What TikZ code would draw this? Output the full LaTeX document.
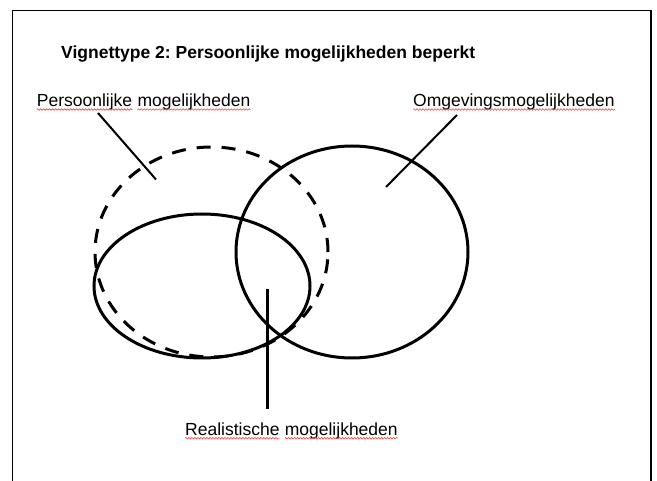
\documentclass[tikz,border=0pt]{standalone}
\usepackage{fontspec}
\setmainfont{Liberation Sans}
\usetikzlibrary{decorations.pathmorphing}
\frenchspacing

\begin{document}
\begin{tikzpicture}[x=1pt, y=-1pt,
  kader/.style={line width=1.5pt},
  set/.style={line width=3pt},
  setdash/.style={set, dash pattern=on 14pt off 11pt},
  wijs/.style={line width=2pt},
  squig/.style={red!75, line width=0.6pt, decorate,
    decoration={snake, amplitude=0.8pt, segment length=3pt}}]

\useasboundingbox (0,0) rectangle (657,481);
\draw[kader] (12.5,481) -- (12.5,10.5) -- (651,10.5) -- (651,481);

\begin{scope}[every node/.style={anchor=base west, inner sep=0pt,
    font=\fontsize{17.5}{21}\selectfont}]
    \path (61,59) node[font=\fontsize{17.5}{21}\selectfont\bfseries] (titel) {Vignettype 2: Persoonlijke mogelijkheden beperkt};
    \path (36.7,107) node (pers) {Persoonlijke};
    \path (pers.base east) +(4.9,0) node (persmog) {mogelijkheden};
    \path (413,107) node (omg) {Omgevingsmogelijkheden};
    \path (185,435.7) node (real) {Realistische};
    \path (real.base east) +(4.9,0) node (realmog) {mogelijkheden};
\end{scope}

% spellcheck lines
\foreach \w in {pers, persmog, omg, real, realmog}
    \draw[squig] ([yshift=-2.5pt]\w.base west) -- ([yshift=-2.5pt]\w.base east);

% the three sets
\draw[setdash] (211.5,252) ellipse [x radius=116.5pt, y radius=105pt];
\draw[set] (202,286) ellipse [x radius=108pt, y radius=72pt];
\draw[set] (352,252) ellipse [x radius=116pt, y radius=106pt];

\coordinate (persvoet) at (98,113);
\coordinate (perspunt) at (156,179.5);
\coordinate (omgvoet) at (457,115);
\coordinate (omgpunt) at (386,187);
\coordinate (realvoet) at (267.3,409);
\coordinate (realpunt) at (267.3,289);

\draw[wijs] (persvoet) -- (perspunt);
\draw[wijs] (omgvoet) -- (omgpunt);
\draw[set] (realvoet) -- (realpunt);

\end{tikzpicture}
\end{document}
